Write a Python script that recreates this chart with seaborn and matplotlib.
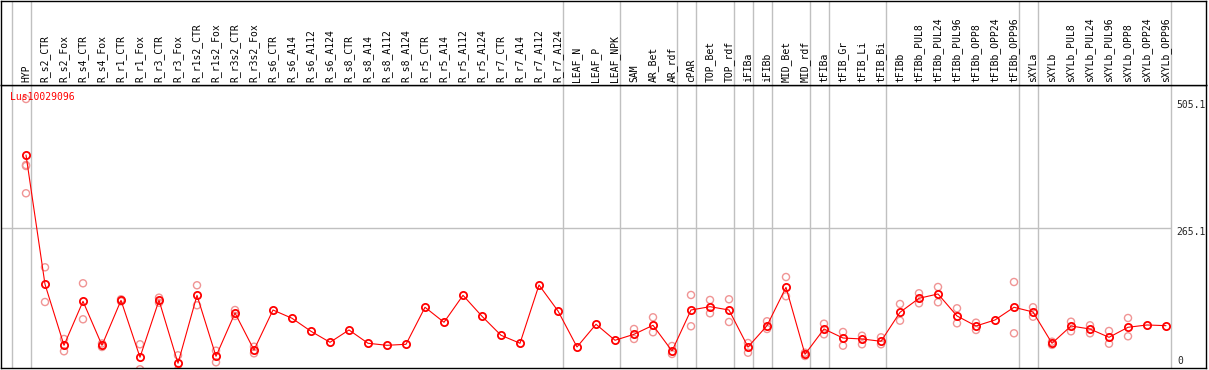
import numpy as np
import pandas as pd
import matplotlib
matplotlib.use("Agg")
import matplotlib.pyplot as plt
import seaborn as sns

sns.set_style("white")
plt.rcParams['font.family'] = ['DejaVu Sans Mono']

GENE = 'Lus10029096'

samples = [
    'HYP', 'R_s2_CTR', 'R_s2_Fox', 'R_s4_CTR', 'R_s4_Fox', 'R_r1_CTR', 'R_r1_Fox',
    'R_r3_CTR', 'R_r3_Fox', 'R_r1s2_CTR', 'R_r1s2_Fox', 'R_r3s2_CTR', 'R_r3s2_Fox',
    'R_s6_CTR', 'R_s6_A14', 'R_s6_A112', 'R_s6_A124', 'R_s8_CTR', 'R_s8_A14',
    'R_s8_A112', 'R_s8_A124', 'R_r5_CTR', 'R_r5_A14', 'R_r5_A112', 'R_r5_A124',
    'R_r7_CTR', 'R_r7_A14', 'R_r7_A112', 'R_r7_A124', 'LEAF_N', 'LEAF_P', 'LEAF_NPK',
    'SAM', 'AR_Bet', 'AR_rdf', 'cPAR', 'TOP_Bet', 'TOP_rdf', 'iFIBa', 'iFIBb',
    'MID_Bet', 'MID_rdf', 'tFIBa', 'tFIB_Gr', 'tFIB_Li', 'tFIB_Bi', 'tFIBb',
    'tFIBb_PUL8', 'tFIBb_PUL24', 'tFIBb_PUL96', 'tFIBb_OPP8', 'tFIBb_OPP24',
    'tFIBb_OPP96', 'sXYLa', 'sXYLb', 'sXYLb_PUL8', 'sXYLb_PUL24', 'sXYLb_PUL96',
    'sXYLb_OPP8', 'sXYLb_OPP24', 'sXYLb_OPP96',
]

# mean expression per sample
means = [
    400.7, 159.7, 46.0, 128.0, 46.0, 129.9, 23.7, 129.9, 12.5, 139.2, 25.5, 106.2, 37.3,
    111.8, 96.4, 72.1, 51.6, 74.6, 49.8, 46.0, 47.9, 116.9, 88.9, 139.2, 100.1,
    64.7, 49.8, 158.4, 110.0, 42.9, 85.2, 55.4,
    66.5, 83.3, 35.4, 111.8, 118.0, 111.8, 42.9, 82.6, 154.1, 29.3, 76.4, 59.6,
    57.8, 53.5, 107.5, 133.6, 141.7, 100.7, 82.0, 93.2, 116.9, 108.1, 49.8,
    82.0, 76.4, 60.9, 79.6, 83.9, 82.6,
]

# individual replicates (sample index, value)
rep_idx = [
    0, 0, 0, 0, 1, 1, 2, 2, 3, 3, 4, 4, 5, 5, 6, 6, 7, 7, 8, 8, 9, 9, 10, 10,
    11, 11, 12, 12,
    32, 32, 33, 33, 34, 34, 35, 35, 36, 36, 37, 37, 38, 38, 39, 39, 40, 40,
    41, 41, 42, 42, 43, 43, 44, 44, 45, 45, 46, 46, 47, 47, 48, 48, 49, 49,
    50, 50, 52, 52, 53, 53, 54, 54, 55, 55, 56, 56, 57, 57, 58, 58,
]
rep_val = [
    505.1, 382.1, 380.2, 329.4, 191.4, 126.7, 57.8, 34.9, 161.6, 94.5, 49.4, 42.9,
    131.8, 128.0, 47.9, 1.3, 134.8, 125.4, 27.4, 0.0, 157.9, 120.6, 36.0, 14.4,
    111.8, 100.7, 43.4, 31.1,
    76.4, 57.8, 98.2, 70.3, 44.7, 29.8, 139.8, 81.5, 130.5, 105.7, 131.8, 89.5,
    50.3, 32.2, 90.8, 76.4, 173.3, 137.4, 32.2, 26.1, 86.3, 66.5, 70.8, 45.3,
    63.9, 47.9, 60.9, 47.9, 123.0, 91.9, 143.0, 124.3, 154.7, 126.2, 115.0, 87.0,
    88.2, 74.6, 164.0, 68.4, 116.9, 99.3, 52.7, 46.8, 90.0, 72.1, 83.3, 68.4,
    72.7, 49.0, 96.9, 62.8,
]

# group separators drawn after these sample indices
separators = [-1, 0, 28, 31, 34, 35, 37, 38, 39, 41, 42, 45, 52, 53, 60]

y_ticks = [505.1, 265.1]

mean_df = pd.DataFrame({'pos': np.arange(len(samples)), 'value': means})
rep_df = pd.DataFrame({'pos': rep_idx, 'value': rep_val})

W, H = 1209, 370
fig = plt.figure(figsize=(W / 100, H / 100), dpi=100)
fig.patch.set_facecolor('white')

step = 19.0
xmin = -25 / step
xmax = xmin + 1205 / step
ymin, ymax = 3.7, 531.2

ax = fig.add_axes([1 / W, 2 / H, 1205 / W, 283 / H])
head = fig.add_axes([1 / W, 285 / H, 1205 / W, 84 / H])

for a in (ax, head):
    a.set_xlim(xmin, xmax)
    a.set_xticks([])
    a.set_yticks([])
    for s in a.spines.values():
        s.set_color('black')
        s.set_linewidth(1.0)
    for sep in separators:
        a.axvline(sep + 0.247, color='#c0c0c0', lw=1.0, zorder=0)
head.set_ylim(0, 1)

ax.hlines(y_ticks[1], xmin, separators[-1] + 0.247, color='#c0c0c0', lw=1.0, zorder=0)

# replicates first, then the mean profile on top
sns.scatterplot(data=rep_df, x='pos', y='value', ax=ax, marker='o', s=26,
                facecolor='none', edgecolor='#f09494', linewidth=1.0, zorder=2,
                legend=False)
sns.lineplot(data=mean_df, x='pos', y='value', ax=ax, color='red', lw=0.8,
             marker='o', markersize=5.2, markerfacecolor='none',
             markeredgecolor='red', markeredgewidth=1.3, sort=False,
             errorbar=None, zorder=3)
ax.set_xlabel('')
ax.set_ylabel('')
ax.set_xlim(xmin, xmax)
ax.set_ylim(ymin, ymax)

for i, name in enumerate(samples):
    head.text(i, 0.03, name, rotation=90, ha='center', va='bottom',
              fontsize=7, color='black')

ax.text(9 / 1205, 1 - 11.7 / 283, GENE, transform=ax.transAxes, color='red',
        fontsize=7, ha='left', va='center')

# value labels in the right-hand strip
lab_x = separators[-1] + 0.247 + 5.5 / step
ax.annotate(f'{y_ticks[0]}', xy=(lab_x, y_ticks[0]), xytext=(0, -5.5),
            textcoords='offset pixels', fontsize=7, ha='left', va='center')
ax.annotate(f'{y_ticks[1]}', xy=(lab_x, y_ticks[1]), xytext=(0, -4),
            textcoords='offset pixels', fontsize=7, ha='left', va='center')
ax.text(lab_x + 0.05, 0.023, '0', transform=ax.get_xaxis_transform(),
        fontsize=7, ha='left', va='center')

fig.savefig('out.png', dpi=100, facecolor='white')
